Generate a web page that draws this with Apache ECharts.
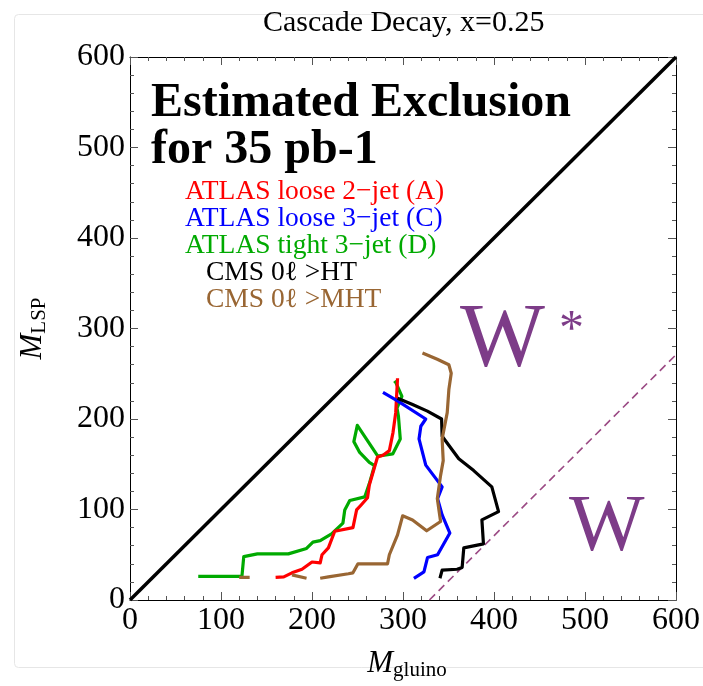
<!DOCTYPE html>
<html>
<head>
<meta charset="utf-8">
<script src="https://cdn.jsdelivr.net/npm/echarts@6/dist/echarts.min.js"></script>
<style>
  html, body { margin: 0; padding: 0; background: #fff; }
  #chart { width: 703px; height: 686px; }
</style>
</head>
<body>
<div id="chart"></div>
<script>
// Axis ticks (GeV)
const xTicks = [0, 100, 200, 300, 400, 500, 600];
const yTicks = [0, 100, 200, 300, 400, 500, 600];

// Kinematic boundaries
const diagonal = [[0, 0], [600, 600]];          // M_LSP = M_gluino
const wBoundary = [[329, 0], [600, 271]];       // on-shell W threshold

// Exclusion contours, [M_gluino, M_LSP]
const atlasLoose2 = [
  [160, 25], [169, 25.5], [178, 30], [189, 34], [200, 42], [209, 41], [211, 50],
  [218, 57.6], [225, 76], [245, 80], [249, 99.5], [254, 105], [261, 113],
  [263, 127], [272, 158], [278, 160], [285, 165], [289, 185], [292, 207], [294, 245]
];
const atlasLoose3 = [
  [312, 24], [323, 31], [327, 47], [338, 50], [351.5, 74], [343, 94], [338, 112],
  [343, 125], [325, 149], [317.6, 178], [319.6, 192], [325, 200], [294, 220], [278, 229.5]
];
const atlasTight3 = [
  [75, 26], [123, 26], [125, 48], [140, 51], [174, 51], [194, 57], [201, 64],
  [209, 65.6], [221.5, 73], [234, 85], [236, 99.5], [241.5, 110], [258, 114],
  [263, 128.6], [268.7, 148.6], [263, 152], [252.4, 163], [246, 175], [249.8, 193],
  [272.3, 159], [288.7, 161.4], [297, 178], [295, 203], [293.4, 212], [298.8, 225],
  [292.3, 240], [290.5, 242]
];
const cmsHT = [
  [340.6, 24], [343, 33], [359.5, 34], [365, 36], [366.8, 57.6], [388.4, 62],
  [386.7, 88.5], [405, 97.6], [397.6, 125], [377.7, 143], [361.3, 156], [343, 181],
  [342.4, 200], [326.8, 208.7], [310.5, 216], [294, 223]
];
// MHT contour comes in three pieces along the lower edge
const cmsMHTa = [[120, 25], [131.5, 25]];
const cmsMHTb = [[178, 27.7], [194, 24]];
const cmsMHTc = [
  [209, 24], [218, 25.5], [240, 29], [245, 30], [250.5, 40], [283, 40], [285, 50],
  [294, 72], [299.6, 93], [310.5, 88.5], [326, 76.5], [341.3, 86.7], [337.7, 112],
  [341.3, 137.7], [344.2, 154], [343, 178], [348.6, 207], [350.4, 232.5],
  [353, 250.6], [350.4, 260], [337.7, 266], [321.4, 273]
];

const legendLines = [
  { text: 'ATLAS loose 2\u2212jet (A)', color: '#ff0000' },
  { text: 'ATLAS loose 3\u2212jet (C)', color: '#0000ff' },
  { text: 'ATLAS tight 3\u2212jet (D)', color: '#00aa00' },
  { text: 'CMS 0\u2113 >HT', color: '#000000' },
  { text: 'CMS 0\u2113 >MHT', color: '#996633' }
];

const serif = '"Liberation Serif", "DejaVu Serif", serif';
const purple = '#7d3c88';

const chart = echarts.init(document.getElementById('chart'), null, { renderer: 'canvas' });

function axisCommon(show) {
  return {
    type: 'value', min: 0, max: 600, interval: 100,
    axisLine: { show: true, onZero: false, lineStyle: { color: '#000', width: 1 } },
    axisTick: { show: true, inside: true, length: 8, lineStyle: { color: '#555', width: 1 } },
    minorTick: { show: true, splitNumber: 5, length: 4, lineStyle: { color: '#555', width: 1 } },
    splitLine: { show: false },
    axisLabel: {
      show: show, fontFamily: serif, fontSize: 32, color: '#000', margin: 5
    }
  };
}

function line(data, color, width, z, dash) {
  return {
    type: 'line', data: data, showSymbol: false, symbol: 'none',
    xAxisIndex: 0, yAxisIndex: 0, z: z,
    lineStyle: { color: color, width: width, type: dash || 'solid', cap: 'butt', join: 'round' },
    animation: false, silent: true
  };
}

const legendGraphics = legendLines.map((l, i) => ({
  type: 'text',
  left: i < 3 ? 185 : 206,
  top: 178 + i * 27,
  style: { text: l.text, fill: l.color, font: '27.5px ' + serif }
}));

chart.setOption({
  animation: false,
  backgroundColor: '#fff',
  grid: { left: 130, right: 22, top: 57, bottom: 80, containLabel: false },
  xAxis: [
    Object.assign(axisCommon(true), {
      position: 'bottom',
      name: '{m|M}{s|gluino}', nameLocation: 'middle', nameGap: 46,
      nameTextStyle: {
        padding: [0, 0, 0, 8],
        rich: {
          m: { fontFamily: serif, fontStyle: 'italic', fontSize: 31, color: '#000' },
          s: { fontFamily: serif, fontSize: 21, color: '#000', verticalAlign: 'bottom', padding: [14, 0, 0, 0] }
        }
      }
    }),
    Object.assign(axisCommon(false), { position: 'top' })
  ],
  yAxis: [
    Object.assign(axisCommon(true), {
      position: 'left',
      name: '{m|M}{s|LSP}', nameLocation: 'middle', nameGap: 80, nameRotate: 90,
      nameTextStyle: {
        rich: {
          m: { fontFamily: serif, fontStyle: 'italic', fontSize: 31, color: '#000' },
          s: { fontFamily: serif, fontSize: 21, color: '#000', verticalAlign: 'bottom', padding: [14, 0, 0, 0] }
        }
      }
    }),
    Object.assign(axisCommon(false), { position: 'right' })
  ],
  series: [
    line(diagonal, '#000', 3.5, 2),
    line(wBoundary, '#9b4a84', 1.6, 2, [8, 5]),
    line(atlasTight3, '#00aa00', 3.2, 3),
    line(atlasLoose2, '#ff0000', 3.2, 4),
    line(atlasLoose3, '#0000ff', 3.2, 5),
    line(cmsHT, '#000000', 3.2, 6),
    line(cmsMHTa, '#996633', 3.2, 7),
    line(cmsMHTb, '#996633', 3.2, 7),
    line(cmsMHTc, '#996633', 3.2, 7)
  ],
  graphic: [
    {
      type: 'rect', left: 12, top: 12, z: -1, silent: true,
      shape: { width: 700, height: 653, r: 4 },
      style: { fill: 'none', stroke: '#e6e6e6', lineWidth: 1 }
    },
    {
      type: 'text', left: 263, top: 8,
      style: { text: 'Cascade Decay, x=0.25', fill: '#000', font: '30px ' + serif }
    },
    {
      type: 'text', left: 151, top: 80,
      style: { text: 'Estimated Exclusion\nfor 35 pb-1', fill: '#000', font: 'bold 48px ' + serif, lineHeight: 47 }
    },
    ...legendGraphics,
    {
      type: 'text', left: 460, top: 297,
      style: { text: 'W', fill: purple, font: '90px ' + serif }
    },
    {
      type: 'text', left: 559, top: 306,
      style: { text: '*', fill: purple, font: '50px ' + serif }
    },
    {
      type: 'text', left: 569, top: 489,
      style: { text: 'W', fill: purple, font: '80px ' + serif }
    }
  ]
});
</script>
</body>
</html>
